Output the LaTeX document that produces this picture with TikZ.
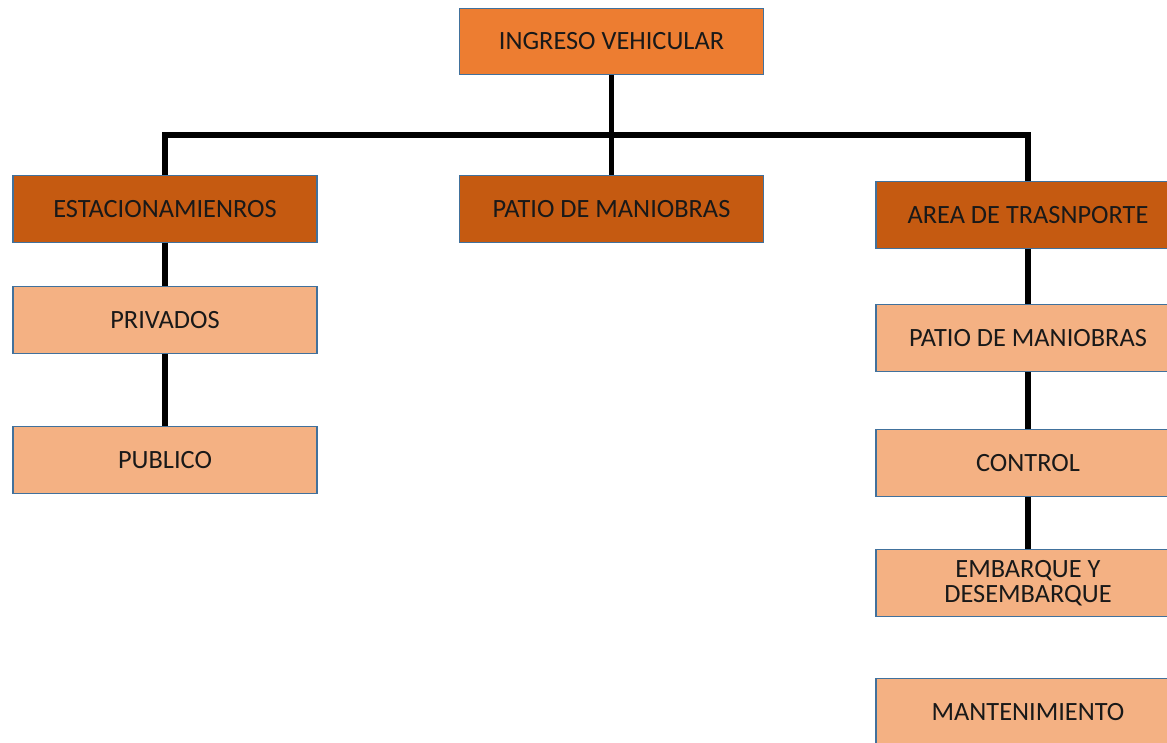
\documentclass[tikz,border=0pt]{standalone}
\usepackage{fontspec}
\setmainfont{Carlito}

\definecolor{naranja}{HTML}{ED7D31}
\definecolor{naranjaosc}{HTML}{C55A11}
\definecolor{salmon}{HTML}{F4B183}
\definecolor{borde}{HTML}{41719C}

\begin{document}
\begin{tikzpicture}[x=0.02cm,y=-0.02cm,
  caja/.style={draw=borde,line width=0.7pt,minimum width=6.08cm,minimum height=1.33cm,
    inner sep=2pt,align=center,text=black!90,font=\fontsize{15}{14.2}\selectfont},
  raiz/.style={caja,fill=naranja},
  area/.style={caja,fill=naranjaosc},
  sub/.style={caja,fill=salmon},
  enlace/.style={line width=2.9pt,black}]
  \clip (0,0) rectangle (1167,743);

  \node[raiz] (ingreso) at (611.5,41.5) {INGRESO VEHICULAR};

  \node[area] (estac) at (165,209) {ESTACIONAMIENROS};
  \node[area] (patio) at (611.5,209) {PATIO DE MANIOBRAS};
  \node[area] (trans) at (1028,215) {AREA DE TRASNPORTE};

  \node[sub] (privados) at (165,320) {PRIVADOS};
  \node[sub] (publico) at (165,460) {PUBLICO};

  \node[sub] (patio2) at (1028,338) {PATIO DE MANIOBRAS};
  \node[sub] (control) at (1028,463) {CONTROL};
  \node[sub] (embarque) at (1028,583) {EMBARQUE Y\\DESEMBARQUE};
  \node[sub] (manten) at (1028,712) {MANTENIMIENTO};

  % tronco y barra horizontal
  \coordinate (barra) at (0,135);
  \draw[enlace] (ingreso) -- (patio);
  \draw[enlace] (estac.north) |- (trans.north |- barra) -- (trans.north);

  % ramas
  \draw[enlace] (estac) -- (privados);
  \draw[enlace] (privados) -- (publico);
  \draw[enlace] (trans) -- (patio2);
  \draw[enlace] (patio2) -- (control);
  \draw[enlace] (control) -- (embarque);
\end{tikzpicture}
\end{document}
